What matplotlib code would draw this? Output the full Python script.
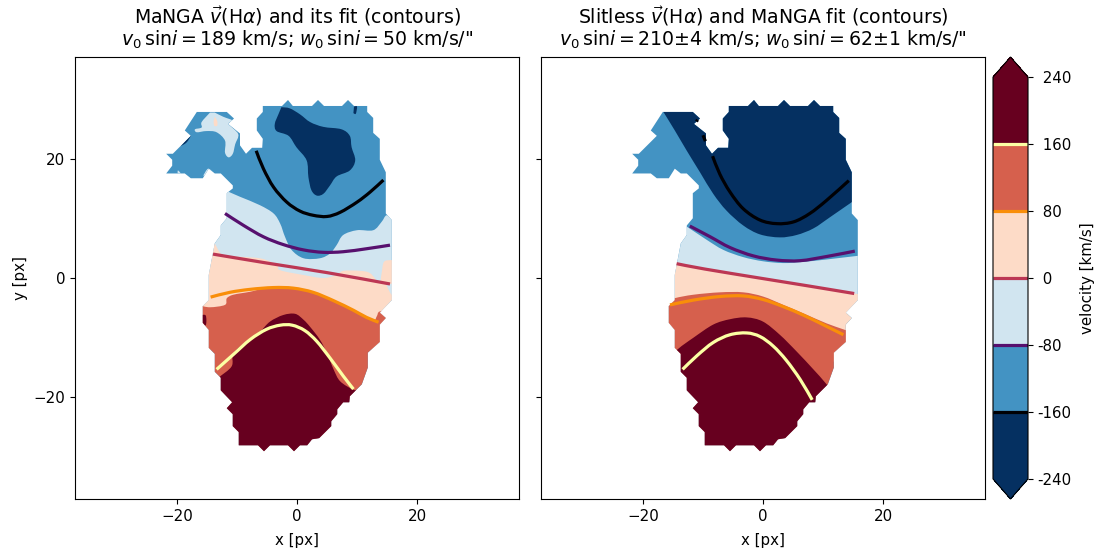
import numpy as np
import matplotlib
matplotlib.use("Agg")
import matplotlib.pyplot as plt
from matplotlib.path import Path
from matplotlib.patches import PathPatch
from matplotlib.colors import ListedColormap, BoundaryNorm
from matplotlib.colorbar import Colorbar

levels = [-240, -160, -80, 0, 80, 160, 240]
tick_labels = ["-240", "-160", "-80", " 0", " 80", " 160", " 240"]
band_colors = ["#053061", "#4393c3", "#d1e5f0", "#fddbc7", "#d6604d", "#67001f"]
ticks_xy = [-20, 0, 20]

galaxy_outline = [
    (-5.7, 28.8), (-2.5, 28.8), (-1.5, 29.8), (-0.7, 28.8), (2.5, 28.8), (3.5, 29.8), (4.5, 28.8),
    (7.5, 28.8), (8.5, 29.8), (9.5, 28.8), (11.7, 28.8), (11.7, 27.8), (12.7, 26.8), (12.7, 24.3),
    (13.8, 23.3), (13.8, 19.8), (14.8, 17.7), (14.8, 10.8), (15.8, 9.7), (15.8, -3.7), (13.8, -5.8),
    (14.8, -6.7), (13.8, -7.8), (13.8, -10.7), (11.8, -12.5), (11.8, -15), (10.8, -17.8), (8.8, -19.8),
    (8.7, -20.8), (7.7, -20.8), (6.7, -22), (6.7, -22.8), (5.7, -24), (5.7, -24.8), (3.7, -26.8),
    (2.5, -27), (1.7, -28), (0.5, -28), (-0.5, -29), (-1.5, -28), (-4.5, -28), (-5.5, -29), (-6.5, -28),
    (-9.7, -28), (-9.7, -25.8), (-10.7, -24.8), (-10.7, -22.8), (-11.7, -21.8), (-10.8, -20.8),
    (-12.7, -18.8), (-12.7, -16.7), (-13.7, -15.7), (-13.7, -12.7), (-14.7, -11.7), (-14.7, -8.7),
    (-15.7, -7.5), (-15.7, -4.7), (-14.7, -3.7), (-14.7, 0.5), (-13.7, 5.8), (-12.7, 7.2), (-12.7, 8.8),
    (-11.7, 10), (-11.7, 14.2), (-10.7, 15), (-10.7, 15.5), (-12.7, 17.5), (-13.7, 17.5), (-14.7, 18.3),
    (-15.7, 16.7), (-17.7, 16.7), (-18.7, 17.5), (-21.8, 17.5), (-20.8, 18.8), (-20.8, 19.8), (-21.8, 20.8),
    (-20.7, 20.8), (-17.7, 23.8), (-18.7, 24.7), (-16.7, 27.8), (-11.7, 27.8), (-10.5, 26.7), (-11.5, 25.8),
    (-9.5, 24.2), (-9.5, 22.2), (-8.5, 20.8), (-7.5, 21.8), (-5.8, 21.8), (-5.7, 23.3), (-6.7, 24.7),
    (-6.7, 26.7), (-5.7, 27.8),
]

# left panel regions
manga_navy_blob = [
    (-2.6, 28.6), (-1.2, 28.4), (0.5, 27.4), (2.2, 26.1), (4.4, 25.3), (7.4, 24.9), (8.8, 23.8), (9.1, 21.9),
    (9.7, 19.7), (8.8, 18), (6.6, 17), (5.5, 15.5), (4.4, 14.1), (3.3, 13.8), (2.4, 14.7), (1.9, 16.9),
    (1.6, 19.7), (-0.1, 21.9), (-1.4, 23.8), (-3.4, 24.6), (-3.7, 25.8), (-3.1, 27.4),
]
manga_navy_speck_top = [(9.5, 28.7), (10, 28.7), (9.8, 27.5), (9.4, 27.6)]
manga_navy_speck_left = [(-19.4, 22.05), (-18.4, 22.7), (-17.7, 23.8), (-18.3, 23.3), (-19, 22.5)]
manga_light_edge = [
    (-12, 14.7), (-9.5, 13.6), (-6.2, 12.2), (-3.9, 10.8), (-2.8, 9.1), (-2, 6.9), (-0.9, 4.7), (1.1, 3.3),
    (3.8, 3.3), (5.5, 4.1), (6.6, 5.5), (7.7, 7.2), (10, 8), (12.7, 8), (14.1, 9.4), (14.9, 10.5), (16, 10),
]
manga_light_close = [(18, 10), (18, -6), (-18, -6), (-18, 14.7)]
manga_light_blob = [
    (-13.7, 27.7), (-12.3, 27), (-10.6, 26.3), (-11.4, 25.8), (-9.8, 24.1), (-10.3, 22.4), (-10.7, 20.8),
    (-11.4, 20.2), (-12, 21), (-12, 23), (-13.4, 24.4), (-15.1, 24.6), (-16.7, 24.4), (-17, 24.9),
    (-15.9, 25.2), (-15.9, 26.1), (-14.5, 27.7),
]
manga_light_bump_a = [(-15.6, 17.2), (-14.8, 18.3), (-13.9, 17.4), (-14.5, 17.0), (-15.3, 16.7)]
manga_light_bump_b = [(-19.9, 17.5), (-19.8, 18), (-19, 17), (-19.5, 17.3)]
manga_light_sliver = [(14.9, -1.2), (15.8, -2.8), (16, -0.9)]
manga_peach_edge = [
    (-13.7, 5.8), (-12.8, 4.2), (-11.7, 3.7), (-6.2, 3.3), (-3.4, 2.2), (-2.8, 1.3), (1.1, 0.5), (4.4, 0),
    (6.6, 0.5), (7.7, 1.2), (10.5, 1.2), (12.2, 0.8), (13.7, -0.8), (14.1, 0.8), (14.5, 2.7), (15.8, 3), (18, 3),
]
manga_peach_close = [(18, -12), (-18, -12), (-18, 5.8)]
manga_peach_dot = [(-13.7, 27), (-13.3, 26.3), (-13.3, 25.5), (-13.8, 25.5), (-13.9, 26.3)]
manga_red_edge = [
    (-16.2, -4.6), (-14.5, -4.9), (-12, -4.5), (-11.7, -3.4), (-10.6, -2.8), (-7.8, -2.3), (-5.1, -1.7),
    (-1.2, -1.7), (1.1, -2), (4.4, -3.1), (7.7, -4.5), (10, -5.6), (12.7, -7), (13.3, -6.4), (13.8, -5.6), (16, -5.6),
]
manga_red_close = [(18, -5.6), (18, -40), (-18, -40), (-18, -4.6)]
manga_dark_edge = [
    (-14.5, -18), (-13.1, -16.7), (-10.9, -14.8), (-10.6, -12.6), (-8.4, -10.6), (-6.2, -9), (-4.5, -7.3),
    (-2.3, -6.2), (-0.3, -6), (1.1, -7), (2.2, -8.2), (3.8, -10.3), (5, -12.6), (6.1, -15.3), (7.2, -17.3),
    (9.4, -18.7), (10.5, -18.7), (14, -18.7),
]
manga_dark_close = [(14, -40), (-16, -40), (-16, -18)]
manga_dark_speck = [(-16, -6.2), (-15.2, -6.3), (-15.2, -7.9), (-16, -7.7)]

# right panel regions
slit_navy_edge = [
    (-16.6, 27.8), (-14.7, 24.7), (-12.7, 21.3), (-10.5, 17.7), (-8.3, 14.1), (-6.1, 11.3), (-3.3, 8.8),
    (-0.5, 7.3), (2.8, 6.8), (5.6, 7.2), (8.4, 8.3), (11.2, 10.2), (14.8, 12.7), (17, 14.2),
]
slit_navy_close = [(17, 33), (-16.6, 33)]
slit_light_edge = [
    (-15, 10), (-12.4, 8.4), (-9.4, 6.4), (-6.6, 4.7), (-3.3, 3.5), (0, 2.8), (3.4, 2.5), (6.7, 2.7),
    (10.6, 3.1), (15.7, 3.7), (18, 3.9),
]
slit_light_close = [(18, -6), (-18, -6), (-18, 10)]
slit_peach_edge = [(-18, 3), (-14.4, 2.4), (-9.7, 1.5), (0, -0.1), (8, -1.4), (15.2, -2.6), (18, -3)]
slit_peach_close = [(18, -14), (-18, -14)]
slit_red_edge = [
    (-18, -4.4), (-14.8, -3.4), (-11.6, -2.8), (-7.2, -2.4), (-3.3, -2.4), (0, -3.1), (3.4, -4.5), (6.7, -5.9),
    (10.6, -7.6), (13.7, -8.7), (18, -10.3),
]
slit_red_close = [(18, -40), (-18, -40)]
slit_dark_edge = [
    (-18, -15.5), (-14.3, -12), (-11.6, -10), (-8.3, -7.8), (-5.5, -6.9), (-2.7, -6.6), (0, -7.3), (2.8, -9.5),
    (5.6, -12.3), (8.4, -15.3), (10.6, -17.8), (14, -22),
]
slit_dark_close = [(14, -40), (-18, -40)]

# contours of the fit
manga_black = [(-6.8, 21.3), (-5.6, 18.3), (-3.9, 15.2), (-1.7, 12.7), (0.5, 11.2), (2.7, 10.5), (5, 10.3),
               (7.2, 11), (10, 12.7), (12.2, 14.4), (14.4, 16.4)]
manga_purple = [(-12, 10.8), (-8.9, 8.8), (-5.6, 6.9), (-2.3, 5.6), (1.1, 4.7), (4.4, 4.3), (7.7, 4.4),
                (11.6, 4.9), (15.5, 5.5)]
manga_crimson = [(-14, 4), (-5, 2.5), (5, 0.9), (15.5, -1)]
manga_orange = [(-14.4, -3.2), (-11.2, -2.4), (-7.8, -1.9), (-3.9, -1.6), (-0.6, -1.7), (2.7, -2.4), (6.1, -3.8),
                (9.4, -5.4), (11.6, -6.6), (13.6, -7.4)]
manga_yellow = [(-13.4, -15.3), (-10.6, -12.8), (-7.8, -10.3), (-5.1, -8.6), (-2.8, -7.9), (-0.8, -7.9), (1.3, -8.8),
                (3.3, -10.6), (5.5, -13.4), (7.7, -16.4), (9.4, -18.6)]
slit_black = [(-8.4, 20.4), (-7.2, 17.4), (-5.5, 14.4), (-3.3, 11.6), (-0.5, 9.7), (2.3, 9.1), (5.1, 9.4),
              (7.8, 10.8), (10.6, 13), (14.3, 16.3)]
slit_black_tick_a = [(-11.1, 26.2), (-10.9, 26.5)]
slit_black_tick_b = [(-10, 23.9), (-9.6, 22.9)]
slit_purple = [(-12.2, 8.7), (-8.8, 6.9), (-5.5, 5.1), (-1.6, 3.7), (2.3, 3), (6.2, 2.9), (10.6, 3.6), (15.3, 4.5)]
slit_crimson = [(-14.4, 2.4), (-9.7, 1.5), (0, -0.1), (8, -1.4), (15.2, -2.6)]
slit_orange = [(-15.5, -4.5), (-11.6, -3.7), (-7.2, -3.1), (-3.3, -3), (0, -3.6), (3.4, -4.8), (6.7, -6.2),
               (10, -7.8), (13.4, -9.5)]
slit_yellow = [(-13.4, -15.3), (-11, -13), (-8.3, -10.8), (-5.5, -9.5), (-2.7, -9.2), (-0.5, -9.8), (1.7, -11.4),
               (3.9, -13.8), (6.2, -17), (8.2, -20.4)]

line_colors = [plt.cm.inferno(v) for v in (0.0, 0.25, 0.5, 0.75, 1.0)]


def curve(points, closure=()):
    """Catmull-Rom path through the given boundary, followed by straight closure points."""
    pts = np.asarray(points, float)
    verts, codes = [pts[0]], [Path.MOVETO]
    n = len(pts)
    for i in range(n - 1):
        p0 = pts[max(i - 1, 0)]
        p1, p2 = pts[i], pts[i + 1]
        p3 = pts[min(i + 2, n - 1)]
        verts += [p1 + (p2 - p0) / 6, p2 - (p3 - p1) / 6, p2]
        codes += [Path.CURVE4, Path.CURVE4, Path.CURVE4]
    for c in closure:
        verts.append(np.asarray(c, float))
        codes.append(Path.LINETO)
    return verts, codes


def add_region(ax, clip, color, points, closure=()):
    verts, codes = curve(points, closure)
    verts.append(verts[0])
    codes.append(Path.CLOSEPOLY)
    patch = PathPatch(Path(verts, codes), facecolor=color, edgecolor="none", lw=0, zorder=2)
    ax.add_patch(patch)
    patch.set_clip_path(clip)


def add_contour(ax, points, color):
    verts, codes = curve(points)
    ax.add_patch(PathPatch(Path(verts, codes), fill=False, edgecolor=color, lw=2.3, capstyle="butt",
                           joinstyle="round", zorder=4))


def base(ax):
    poly = np.array(galaxy_outline + [galaxy_outline[0]])
    codes = [Path.MOVETO] + [Path.LINETO] * (len(poly) - 2) + [Path.CLOSEPOLY]
    patch = PathPatch(Path(poly, codes), facecolor=band_colors[1], edgecolor="none", lw=0, zorder=1)
    ax.add_patch(patch)
    return patch


plt.rcParams.update({"font.size": 10.8, "mathtext.default": "it"})
W, H = 1100, 552
fig = plt.figure(figsize=(W / 100, H / 100), dpi=100)
ax1 = fig.add_axes([75 / W, (H - 499) / H, 444 / W, 442 / H])
ax2 = fig.add_axes([541 / W, (H - 499) / H, 444 / W, 442 / H])
cax = fig.add_axes([993 / W, (H - 499) / H, 35 / W, 442 / H])

clip = base(ax1)
add_region(ax1, clip, band_colors[2], manga_light_edge, manga_light_close)
add_region(ax1, clip, band_colors[3], manga_peach_edge, manga_peach_close)
add_region(ax1, clip, band_colors[2], manga_light_sliver)
add_region(ax1, clip, band_colors[4], manga_red_edge, manga_red_close)
add_region(ax1, clip, band_colors[5], manga_dark_edge, manga_dark_close)
add_region(ax1, clip, band_colors[5], manga_dark_speck)
add_region(ax1, clip, band_colors[0], manga_navy_blob)
add_region(ax1, clip, band_colors[0], manga_navy_speck_top)
add_region(ax1, clip, band_colors[0], manga_navy_speck_left)
add_region(ax1, clip, band_colors[2], manga_light_blob)
add_region(ax1, clip, band_colors[2], manga_light_bump_a)
add_region(ax1, clip, band_colors[2], manga_light_bump_b)
add_region(ax1, clip, band_colors[3], manga_peach_dot)
for pts, col in zip((manga_black, manga_purple, manga_crimson, manga_orange, manga_yellow), line_colors):
    add_contour(ax1, pts, col)

clip = base(ax2)
add_region(ax2, clip, band_colors[0], slit_navy_edge, slit_navy_close)
add_region(ax2, clip, band_colors[2], slit_light_edge, slit_light_close)
add_region(ax2, clip, band_colors[3], slit_peach_edge, slit_peach_close)
add_region(ax2, clip, band_colors[4], slit_red_edge, slit_red_close)
add_region(ax2, clip, band_colors[5], slit_dark_edge, slit_dark_close)
for pts, col in zip((slit_black, slit_purple, slit_crimson, slit_orange, slit_yellow), line_colors):
    add_contour(ax2, pts, col)
add_contour(ax2, slit_black_tick_a, line_colors[0])
add_contour(ax2, slit_black_tick_b, line_colors[0])

for ax in (ax1, ax2):
    ax.set_xlim(-37, 37)
    ax.set_ylim(-37, 37)
    ax.set_xticks(ticks_xy)
    ax.set_yticks(ticks_xy)
    ax.set_xlabel("x [px]", fontsize=10.8, labelpad=7)
ax1.set_ylabel("y [px]", fontsize=10.8, labelpad=4)
ax2.set_yticklabels([])
ax1.set_title("MaNGA $\\vec{v}$(H$\\alpha$) and its fit (contours)\n"
              "$v_0\\,\\sin\\!i=189$ km/s; $w_0\\,\\sin\\!i=50$ km/s/\"", fontsize=13.6, pad=8, linespacing=1.05)
ax2.set_title("Slitless $\\vec{v}$(H$\\alpha$) and MaNGA fit (contours)\n"
              "$v_0\\,\\sin\\!i=210{\\pm}4$ km/s; $w_0\\,\\sin\\!i=62{\\pm}1$ km/s/\"", fontsize=13.6, pad=8, linespacing=1.05)

cmap = ListedColormap(band_colors)
cmap.set_under(band_colors[0])
cmap.set_over(band_colors[-1])
norm = BoundaryNorm(levels, cmap.N)
sm = plt.cm.ScalarMappable(norm=norm, cmap=cmap)
cbar = Colorbar(cax, sm, extend="both", extendfrac=0.05, ticks=levels, spacing="uniform")
cbar.set_ticklabels(tick_labels)
cbar.add_lines(levels[1:-1], line_colors, [2.3] * 5)
cbar.set_label("velocity [km/s]", fontsize=10.8, labelpad=6)

fig.savefig("out.png", dpi=100)
